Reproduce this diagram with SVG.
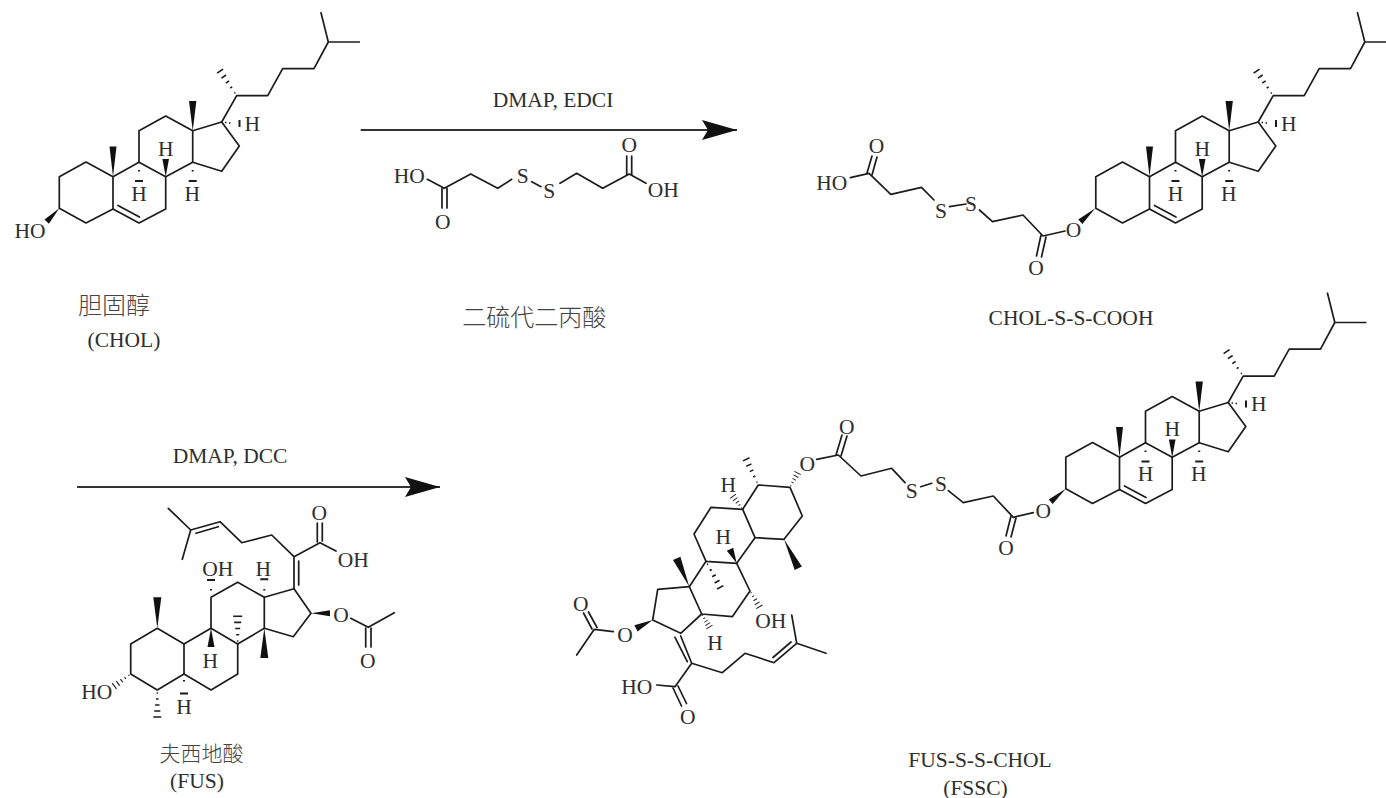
<svg xmlns="http://www.w3.org/2000/svg" xmlns:xlink="http://www.w3.org/1999/xlink" width="1386" height="798" viewBox="0 0 1386 798">
<style>
text{font-family:"Liberation Serif","Noto Sans CJK SC",serif;font-size:21.5px;fill:#2e2e2e;text-anchor:middle}
.cjk{font-size:24px;fill:#444;font-weight:300}
.fus-cn{font-size:21px}
.b{fill:none;stroke:#1c1c1c;stroke-width:1.7;stroke-linejoin:round;stroke-linecap:round}
.w{fill:#111;stroke:none}
.h{stroke:#1c1c1c;stroke-width:1.5;fill:none}
.bar{stroke:#1c1c1c;stroke-width:2;fill:none}
.arr{stroke:#333;stroke-width:1.8;fill:none}
</style>
<defs>
<marker id="head" viewBox="0 0 35 20" refX="35" refY="10" markerWidth="35" markerHeight="20" markerUnits="userSpaceOnUse" orient="auto"><path d="M0 0L35 10L0 20L6 10Z" fill="#111"/></marker>
<g id="hash" class="h"><path d="M3 -.6V.6M9 -1.2V1.2M15 -2V2M21 -2.8V2.8M27 -3.6V3.6"/></g>
<g id="chol-core">
<path class="b" d="M59.3 176.7L86 162L113 176.7L113 209L86 223L59.3 208.3Z"/>
<path class="b" d="M113 176.7L139 162.3L165.7 176.7L165.7 209L139 223L113 209M118 205.5L139.5 217"/>
<path class="b" d="M139 162.3L139 130.7L165.7 116L192.7 130.7L192.7 162.3L165.7 176.7"/>
<path class="b" d="M192.7 130.7L221.7 122L239.3 146L221.7 171.3L192.7 162.3"/>
<path class="b" d="M221.7 122L236.7 95.7L267.7 95.7L282.7 68.7L314 68.7L328.3 42L359.3 42M328.3 42L321 12.7"/>
<polygon class="w" points="113,176.7 109.5,146.5 116.5,146.5"/>
<polygon class="w" points="192.7,130.7 189,101 196.4,101"/>
<polygon class="w" points="165.7,176.7 162.4,159 169,159"/>
<use href="#hash" transform="translate(236.7,95.7) rotate(-124) scale(1.1,1)"/>
<path class="h" d="M225 122.5h1.5M229 123h1.5"/>
<path class="bar" d="M239.5 120v7M139 170v1.6M135 181h8M192.7 170v1.6M188.7 181h8"/>
</g>
</defs>

<g id="connectors">
<line class="arr" x1="360.7" y1="130" x2="737" y2="130" marker-end="url(#head)"/>
<line class="arr" x1="77" y1="487" x2="440" y2="487" marker-end="url(#head)"/>
</g>

<g id="reagents-1">
<text x="553" y="107">DMAP, EDCI</text>
</g>
<g id="reagents-2">
<text x="230" y="463">DMAP, DCC</text>
</g>

<g id="chol">
<use href="#chol-core"/>
<polygon class="w" points="59.3,208.3 48.9,223.8 44.5,219.6"/>
<text x="252.3" y="130.5">H</text><text x="165.7" y="155.5">H</text><text x="139" y="200.5">H</text><text x="192.3" y="200.5">H</text>
<text x="30" y="237.5">HO</text>
<text class="cjk" x="114" y="314">胆固醇</text>
<text x="124" y="347">(CHOL)</text>
</g>

<g id="dithiodipropionic-acid">
<path class="b" d="M427.3 179.3L444.3 188.3L470.7 174L497.7 188.3L511.7 179.3M531.7 181.7L541 186.7M560 183.3L576.7 173.3L602.7 188.3L629.3 174L646 183.3"/>
<path class="b" d="M442 188V208M447 188V208M626.7 156V175M631.7 156V175"/>
<text x="409.3" y="182.5">HO</text><text x="442.7" y="228.5">O</text><text x="522.7" y="183">S</text><text x="549.3" y="198">S</text><text x="629.3" y="151.5">O</text><text x="663.3" y="196.5">OH</text>
<text class="cjk" x="534.3" y="326">二硫代二丙酸</text>
</g>

<g id="chol-s-s-cooh">
<g transform="translate(1036.5,0)"><use href="#chol-core"/>
<text x="252.3" y="130.5">H</text><text x="165.7" y="155.5">H</text><text x="139" y="200.5">H</text><text x="192.3" y="200.5">H</text></g>
<polygon class="w" points="1095.3,208.3 1082.3,223.9 1078.3,219.5"/>
<path class="b" d="M1065 231L1043 236L1023 215L992.5 221.7L979.4 210M966 204L949.5 206.7M934 200L921.5 187.3L890.8 194.3L869 173.3L850.4 177.7"/>
<path class="b" d="M1041 235L1036.5 256M1046 237L1041.5 257M867 173L872 156M872 175L877 157"/>
<text x="1073.5" y="236.5">O</text><text x="1036" y="274.5">O</text><text x="971" y="210.5">S</text><text x="941" y="217.5">S</text><text x="831.8" y="189.5">HO</text><text x="876.6" y="152.5">O</text>
<text x="1071" y="325">CHOL-S-S-COOH</text>
</g>

<g id="fus">
<path class="b" d="M157.3 628.3L184 644L184 674L157.3 690L130.7 674L130.7 644Z"/>
<path class="b" d="M184 644L211 628.3L237.7 644L237.7 674L211 690L184 674"/>
<path class="b" d="M211 628.3L211 597.3L237.7 582.3L264.3 597.3L264.3 628.3L237.7 644"/>
<path class="b" d="M264.3 597.3L294 588.7L311 613.3L293.3 636.7L264.3 628.3"/>
<path class="b" d="M294 588.7V556.7M298.7 585V561M294 556.7L320 542.7L336 551M317.3 523V542M322.3 523V541M294 556.7L271.7 535L241.7 542.7L220 521.7L190.7 530L168.3 508.3M190.7 530L182.3 559.3M196 533.3L218.3 526.7"/>
<path class="b" d="M350.7 618.3L368.3 627.3L394.3 612.7M365.7 628V647M371 628V647"/>
<polygon class="w" points="157.3,628.3 153.3,597.3 161.3,597.3"/>
<polygon class="w" points="264.3,628.3 260.3,658 268.3,658"/>
<polygon class="w" points="211,628.3 207.5,647 214.5,647"/>
<polygon class="w" points="311,613.3 330,610.3 330,616.3"/>
<use href="#hash" transform="translate(237.7,644) rotate(-90) scale(1.03,1.25)"/>
<use href="#hash" transform="translate(157.3,690) rotate(90) scale(1,1.1)"/>
<use href="#hash" transform="translate(130.7,674) rotate(143.7) scale(.75,1)"/>
<path class="bar" d="M211 589v1.6M207 580h8M264.3 589v1.6M260.3 579.3h8M184 680v1.6M180 693.5h8"/>
<text x="217.7" y="575.5">OH</text><text x="263.3" y="575.5">H</text><text x="319.3" y="519.5">O</text><text x="353.3" y="566.5">OH</text><text x="341" y="621.5">O</text><text x="367.7" y="667.5">O</text><text x="210.3" y="668">H</text><text x="96.7" y="698.5">HO</text><text x="184" y="714">H</text>
<text class="cjk fus-cn" x="201.5" y="761">夫西地酸</text>
<text x="197" y="788">(FUS)</text>
</g>

<g id="fssc">
<g transform="translate(1006.5,280.5)"><use href="#chol-core"/>
<text x="252.3" y="130.5">H</text><text x="165.7" y="155.5">H</text><text x="139" y="200.5">H</text><text x="192.3" y="200.5">H</text></g>
<polygon class="w" points="1065.8,488.8 1052.7,503.9 1048.7,499.5"/>
<path class="b" d="M1033.3 512.7L1013.3 517.3L993.3 496L963.3 502.7L948.3 490.7M931.7 483.3L920.7 486.7M905 482.7L891.7 468.3L861 476L838.3 455L816.7 459.3"/>
<path class="b" d="M1011 516L1006 536M1016 518L1011 537M836 455L842 435M841 456L847 436"/>
<path class="b" d="M758.3 485L790 487.3L802.3 516L784 539.3L755 537.7L742.7 509.3Z"/>
<path class="b" d="M742.7 509.3L711 507.3L694 534L706 561.3L736.7 563.3L755 537.7"/>
<path class="b" d="M736.7 563.3L750 591L732.3 616.7L701.7 614L689.3 586.7L706 561.3"/>
<path class="b" d="M689.3 586.7L657.7 589.3L652.7 620L680.7 633.3L701.7 614"/>
<path class="b" d="M680.7 636L691.7 663.3L722.3 672.7L745 653.3L774 662.7L796.7 643.3L791.7 615M796.7 643.3L826 653.3M773 657.5L791 642M675 637.3L687.3 661.7M691.7 663.3L675 686.7L656.7 685M673 688L681.5 706M678 686L686.5 703.5"/>
<path class="b" d="M613.3 631.7L594.3 629.3L576.7 655M592 629L583.5 613M597 627.5L588.5 612"/>
<polygon class="w" points="784,539.3 801.9,566.5 794.7,570.1"/>
<polygon class="w" points="689.3,586.7 680.4,556.7 673,559.9"/>
<polygon class="w" points="736.7,563.3 733.2,547.8 726.8,550.8"/>
<polygon class="w" points="652.7,620 637.6,631.4 634.4,625.2"/>
<use href="#hash" transform="translate(706,561.3) rotate(61.3) scale(1.1,1)"/>
<use href="#hash" transform="translate(742.7,509.3) rotate(-126.7) scale(.6,1)"/>
<use href="#hash" transform="translate(758.3,485) rotate(-115.2) scale(1.05,1)"/>
<use href="#hash" transform="translate(750,591) rotate(59.5) scale(.68,1)"/>
<use href="#hash" transform="translate(701.7,614) rotate(59.3) scale(.56,1)"/>
<use href="#hash" transform="translate(790,487.3) rotate(-62) scale(.6,1)"/>
<text x="807.3" y="470.5">O</text><text x="846.7" y="433.5">O</text><text x="911.7" y="497.5">S</text><text x="941" y="490.5">S</text><text x="1043.3" y="517.5">O</text><text x="1006" y="554.5">O</text>
<text x="728.3" y="491.5">H</text><text x="723.3" y="543.5">H</text><text x="770.7" y="627.5">OH</text><text x="715" y="649.5">H</text>
<text x="625" y="641.5">O</text><text x="580.7" y="610.5">O</text><text x="636.7" y="693.5">HO</text><text x="687.7" y="723.5">O</text>
<text x="980" y="767">FUS-S-S-CHOL</text>
<text x="975.5" y="795">(FSSC)</text>
</g>
</svg>
